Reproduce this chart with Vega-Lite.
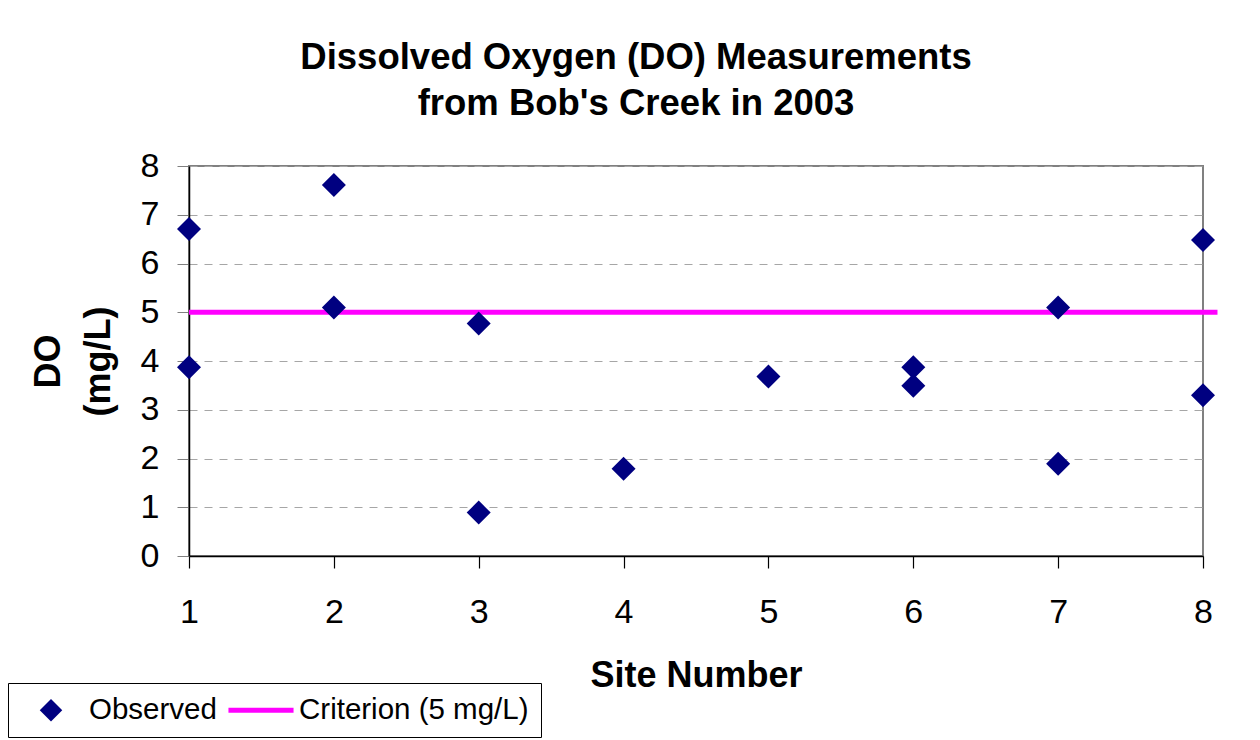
{
  "$schema": "https://vega.github.io/schema/vega-lite/v6.json",
  "autosize": "none",
  "width": 1014,
  "height": 390,
  "padding": {"left": 189, "top": 166, "right": 57, "bottom": 184},
  "background": "white",
  "title": {
    "text": ["Dissolved Oxygen (DO) Measurements", "from Bob's Creek in 2003"],
    "font": "Liberation Sans",
    "fontSize": 36.5,
    "fontWeight": "bold",
    "color": "#000000",
    "lineHeight": 46,
    "anchor": "middle",
    "frame": "group",
    "dx": -60,
    "offset": 27
  },
  "datasets": {
    "obs": [
      {"site": 1, "do": 6.71, "series": "Observed"},
      {"site": 1, "do": 3.87, "series": "Observed"},
      {"site": 2, "do": 7.61, "series": "Observed"},
      {"site": 2, "do": 5.10, "series": "Observed"},
      {"site": 3, "do": 4.77, "series": "Observed"},
      {"site": 3, "do": 0.89, "series": "Observed"},
      {"site": 4, "do": 1.79, "series": "Observed"},
      {"site": 5, "do": 3.68, "series": "Observed"},
      {"site": 6, "do": 3.87, "series": "Observed"},
      {"site": 6, "do": 3.49, "series": "Observed"},
      {"site": 7, "do": 5.10, "series": "Observed"},
      {"site": 7, "do": 1.89, "series": "Observed"},
      {"site": 8, "do": 6.48, "series": "Observed"},
      {"site": 8, "do": 3.30, "series": "Observed"}
    ],
    "crit": [
      {"x": 1, "x2": 8.1, "y": 5, "series": "Criterion (5 mg/L)"}
    ]
  },
  "layer": [
    {
      "data": {"name": "crit"},
      "mark": {"type": "rule", "strokeWidth": 5, "strokeCap": "butt", "color": "#FF00FF"},
      "encoding": {
        "x": {"field": "x", "type": "quantitative"},
        "x2": {"field": "x2"},
        "y": {"field": "y", "type": "quantitative"}
      }
    },
    {
      "data": {"name": "obs"},
      "mark": {"type": "point", "filled": true, "size": 1024, "opacity": 1, "strokeWidth": 0},
      "encoding": {
        "x": {
          "field": "site",
          "type": "quantitative",
          "scale": {"domain": [1, 8], "nice": false, "zero": false},
          "axis": {
            "title": "Site Number",
            "values": [1, 2, 3, 4, 5, 6, 7, 8],
            "format": "d",
            "grid": false,
            "tickSize": 12,
            "tickColor": "#000000",
            "tickWidth": 1.2,
            "labelPadding": 27,
            "labelFlush": false,
            "labelOverlap": false,
            "domainColor": "#000000",
            "domainWidth": 1.5,
            "titleX": 507,
            "titleY": 130,
            "titleAlign": "center",
            "titleBaseline": "alphabetic"
          }
        },
        "y": {
          "field": "do",
          "type": "quantitative",
          "scale": {"domain": [0, 8], "nice": false},
          "axis": {
            "title": ["DO", "(mg/L)"],
            "values": [0, 1, 2, 3, 4, 5, 6, 7, 8],
            "format": "d",
            "grid": true,
            "gridColor": "#A6A6A6",
            "gridDash": [8, 7],
            "gridWidth": 1,
            "tickSize": 12,
            "tickColor": "#808080",
            "labelPadding": 18,
            "labelFlush": false,
            "labelOverlap": false,
            "domainColor": "#000000",
            "domainWidth": 1.5,
            "titleAngle": -90,
            "titleX": -141,
            "titleY": 195,
            "titleAlign": "center",
            "titleBaseline": "middle",
            "titleLineHeight": 50
          }
        },
        "shape": {
          "field": "series",
          "type": "nominal",
          "scale": {
            "domain": ["Observed", "Criterion (5 mg/L)"],
            "range": ["M-0.75,0L0,-0.75L0.75,0L0,0.75Z", "M-2.17,-0.167L2.17,-0.167L2.17,0.167L-2.17,0.167Z"]
          },
          "legend": {
            "title": null,
            "orient": "none",
            "legendX": -181,
            "legendY": 517,
            "direction": "horizontal",
            "columns": 2,
            "padding": 12,
            "strokeColor": "#000000",
            "fillColor": "#FFFFFF",
            "symbolSize": 900,
            "symbolOffset": 16,
            "symbolStrokeWidth": 0,
            "labelFont": "Liberation Sans",
            "labelFontSize": 29.5,
            "labelColor": "#000000",
            "labelLimit": 500,
            "labelOffset": 23,
            "columnPadding": 11
          }
        },
        "color": {
          "field": "series",
          "type": "nominal",
          "scale": {"domain": ["Observed", "Criterion (5 mg/L)"], "range": ["#000080", "#FF00FF"]},
          "legend": {
            "title": null,
            "orient": "none",
            "legendX": -181,
            "legendY": 517,
            "direction": "horizontal",
            "columns": 2,
            "padding": 12,
            "strokeColor": "#000000",
            "fillColor": "#FFFFFF",
            "symbolSize": 900,
            "symbolOffset": 16,
            "symbolStrokeWidth": 0,
            "labelFont": "Liberation Sans",
            "labelFontSize": 29.5,
            "labelColor": "#000000",
            "labelLimit": 500,
            "labelOffset": 23,
            "columnPadding": 11,
            "encode": {
              "symbols": {
                "fill": {"value": {"expr": "datum.value === 'Observed' ? '#000080' : '#FF00FF'"}},
                "fillOpacity": {"value": 1},
                "opacity": {"value": 1},
                "strokeWidth": {"value": 0}
              }
            }
          }
        }
      }
    }
  ],
  "config": {
    "view": {"stroke": "#808080", "strokeWidth": 2},
    "axis": {
      "labelFont": "Liberation Sans",
      "labelFontSize": 34,
      "labelColor": "#000000",
      "titleFont": "Liberation Sans",
      "titleFontSize": 36,
      "titleFontWeight": "bold",
      "titleColor": "#000000"
    }
  }
}
